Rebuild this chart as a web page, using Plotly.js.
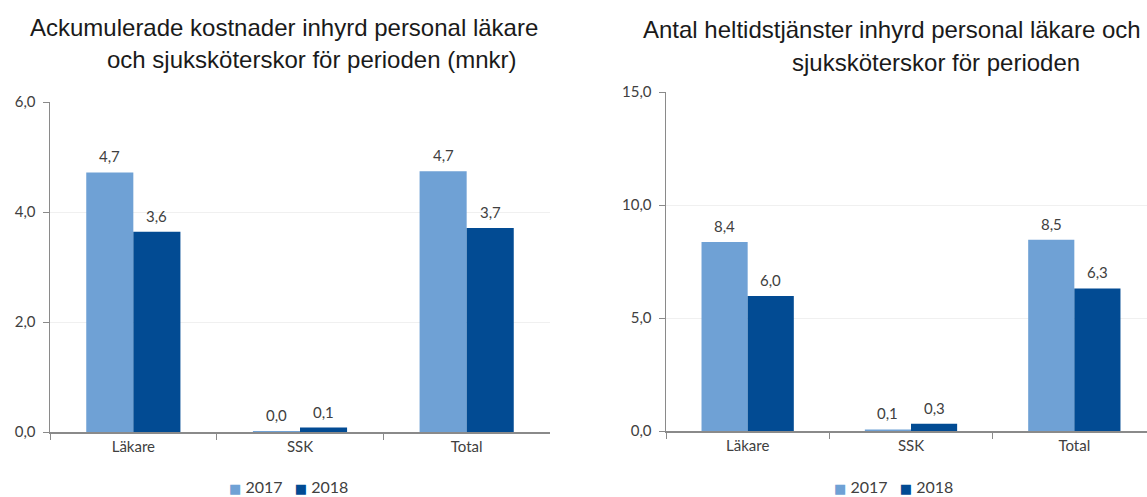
<!DOCTYPE html>
<html>
<head>
<meta charset="utf-8">
<script src="https://cdn.plot.ly/plotly-3.0.1.min.js"></script>
<style>html,body{margin:0;padding:0;background:#fff;overflow:hidden}</style>
</head>
<body>
<div id="chart" style="width:1147px;height:497px"></div>
<script>
const categories = ["Läkare", "SSK", "Total"];
const years = ["2017", "2018"];
const cost2017 = [4.72, 0.02, 4.74];
const cost2018 = [3.64, 0.08, 3.71];
const fte2017 = [8.36, 0.07, 8.46];
const fte2018 = [5.97, 0.32, 6.31];
const yTicksLeft = [0, 2, 4, 6];
const yTicksRight = [0, 5, 10, 15];
const titleLeft = ["Ackumulerade kostnader inhyrd personal läkare", "och sjuksköterskor för perioden (mnkr)"];
const titleRight = ["Antal heltidstjänster inhyrd personal läkare och", "sjuksköterskor för perioden"];

const light = "#6fa1d5";
const dark = "#024b93";
const W = 1147, H = 497;
const BARGAP = 0.435;

function bar(vals, name, color, xa, ya) {
  return {
    type: "bar", x: categories, y: vals, name: name, xaxis: xa, yaxis: ya,
    marker: {color: color}, showlegend: false, hoverinfo: "skip"
  };
}

const traces = [
  bar(cost2017, years[0], light, "x", "y"),
  bar(cost2018, years[1], dark, "x", "y"),
  bar(fte2017, years[0], light, "x2", "y2"),
  bar(fte2018, years[1], dark, "x2", "y2")
];

const fmt = v => (Math.round(v * 10) / 10).toFixed(1).replace(".", ",");
const half = (1 - BARGAP) / 4;
const labelFont = {family: "Lato, 'Open Sans', sans-serif", size: 15, color: "#404040"};
const annotations = [];
function labels(vals, xr, yr, side) {
  vals.forEach((v, i) => {
    annotations.push({
      xref: xr, yref: yr, x: i + side * half, y: v, text: fmt(v),
      showarrow: false, yanchor: "middle", yshift: 16, font: labelFont
    });
  });
}
labels(cost2017, "x", "y", -1);
labels(cost2018, "x", "y", 1);
labels(fte2017, "x2", "y2", -1);
labels(fte2018, "x2", "y2", 1);

function titleLine(text, xpx, ypx) {
  annotations.push({
    xref: "paper", yref: "paper", x: xpx / W, y: 1 - ypx / H, text: text,
    showarrow: false, xanchor: "left", yanchor: "middle",
    font: {family: "'Liberation Sans', Arial, sans-serif", size: 24, color: "#1a1a1a"}
  });
}
titleLine(titleLeft[0], 28, 27);
titleLine(titleLeft[1], 105, 59);
titleLine(titleRight[0], 641, 29);
titleLine(titleRight[1], 790, 62);

function legendAnn(xpx) {
  const sq = c => "<span style='color:" + c + ";font-family:DejaVu Sans;font-size:13px'>■</span>";
  annotations.push({
    xref: "paper", yref: "paper", x: xpx / W, y: 1 - 486 / H,
    xanchor: "center", yanchor: "middle", showarrow: false,
    text: sq(light) + " " + years[0] + "&nbsp;&nbsp;&nbsp;" + sq(dark) + " " + years[1],
    font: {family: "Lato, 'Open Sans', sans-serif", size: 16, color: "#404040"}
  });
}
legendAnn(288);
legendAnn(893);

const tickFont = {family: "Lato, 'Open Sans', sans-serif", size: 15, color: "#404040"};
function xaxis(domain, range, anchor) {
  return {
    domain: domain, range: range, type: "category", anchor: anchor, showgrid: false,
    showline: true, linecolor: "#8a8a8a", linewidth: 1.5,
    ticks: "outside", tickson: "boundaries", ticklen: 6, tickcolor: "#8a8a8a",
    tickfont: tickFont, fixedrange: true, automargin: false
  };
}
function yaxis(domain, range, ticks, anchor) {
  return {
    domain: domain, range: range, anchor: anchor, tickvals: ticks, tickformat: ".1f",
    showgrid: true, gridcolor: "#f0f0f0", gridwidth: 1, zeroline: false,
    showline: true, linecolor: "#8a8a8a", linewidth: 1.5,
    ticks: "outside", ticklen: 6, tickcolor: "#8a8a8a",
    tickfont: tickFont, ticklabelstandoff: 4, fixedrange: true, automargin: false
  };
}

const layout = {
  width: W, height: H,
  margin: {l: 0, r: 0, t: 0, b: 0, autoexpand: false},
  paper_bgcolor: "#fff", plot_bgcolor: "#fff",
  separators: ", ",
  barmode: "group", bargap: BARGAP, bargroupgap: 0,
  xaxis: xaxis([50 / W, 550 / W], [-0.5, 2.5], "y"),
  yaxis: yaxis([1 - 432 / H, 1 - 102 / H], [0, 6], yTicksLeft, "x"),
  xaxis2: xaxis([666 / W, 1], [-0.5, 2.5 - 9 / 163.5], "y2"),
  yaxis2: yaxis([1 - 431 / H, 1 - 92 / H], [0, 15], yTicksRight, "x2"),
  annotations: annotations,
  showlegend: false
};

Plotly.newPlot("chart", traces, layout, {displayModeBar: false, staticPlot: true});
</script>
</body>
</html>
